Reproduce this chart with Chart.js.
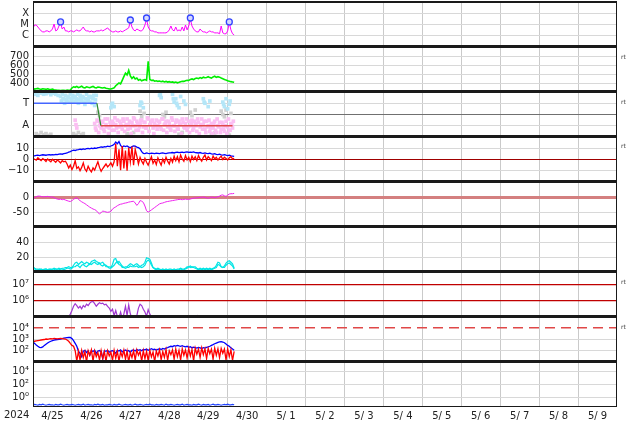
<!DOCTYPE html>
<html>
<head>
<meta charset="utf-8">
<script src="https://cdn.jsdelivr.net/npm/chart.js@4/dist/chart.umd.min.js"></script>
<style>
  html, body { margin: 0; padding: 0; background: #fff; }
  #wrap { position: relative; width: 634px; height: 424px; }
  #wrap canvas { position: absolute; left: 0; top: 0; }
  .rt { position: absolute; left: 621px; font: 6px/6px "DejaVu Sans", sans-serif; color: #444; }
  #year { position: absolute; left: 4px; top: 409px; font: 10px "DejaVu Sans", sans-serif; color: #222; }
</style>
</head>
<body>
<div id="wrap">
  <canvas id="chart" width="634" height="424"></canvas>
  <span class="rt" style="top:54px">rt</span>
  <span class="rt" style="top:99px">rt</span>
  <span class="rt" style="top:143px">rt</span>
  <span class="rt" style="top:279px">rt</span>
  <span class="rt" style="top:324px">rt</span>
  <span id="year">2024</span>
</div>
<script>
// x axis: hours since 4/25 00 UT, one label per day
const dayLabels = ['4/25', '4/26', '4/27', '4/28', '4/29', '4/30', '5/ 1', '5/ 2', '5/ 3', '5/ 4', '5/ 5', '5/ 6', '5/ 7', '5/ 8', '5/ 9'];

// all hourly series start at 4/25 00 UT

// X-ray flux (1e-6 W/m2)
const xrayFlux = [
  5, 9, 9, 6, 4, 2.7, 2.2, 2.2, 2.7, 2.7,
  2.2, 2.7, 4, 11, 2.7, 3.3, 7.4, 14, 4, 6,
  2.7, 2.7, 2.2, 2.7, 2.7, 2.2, 2.7, 3.3, 2.7, 2.7,
  4, 6, 3.3, 2.7, 2.7, 2.2, 2.7, 2.2, 2.2, 2.7,
  2.7, 2.7, 3.3, 2.7, 3.3, 4, 5, 3.3, 2.7, 2.2,
  2.2, 2.7, 2.2, 2.2, 2.7, 2.2, 2.7, 3.3, 4, 5,
  20, 6, 3.3, 2.7, 4, 3.3, 2.7, 2.7, 4, 9,
  30, 6, 3.3, 2.7, 2.7, 2.2, 2.2, 1.8, 1.8, 1.8,
  1.8, 1.8, 1.8, 2.2, 3.3, 7.4, 3.3, 2.7, 6, 2.7,
  3.3, 2.7, 6, 2.7, 9, 3.3, 7.4, 30, 7.4, 4,
  2.7, 2.2, 2.2, 4, 2.7, 2.2, 2.2, 1.8, 2.2, 2.7,
  2.2, 2.2, 1.8, 1.8, 1.8, 1.5, 7.4, 1.8, 1.5, 1.5,
  2.7, 14, 3.3, 1.5, 1.2
];
const flareHours = [17, 60, 70, 97, 121];
const flarePeaks = [17, 25, 38, 38, 17];
const xrayTicks = [1, 10, 100];
const xrayTickLabels = ['C', 'M', 'X'];

// solar wind speed (km/s)
const windSpeed = [
  338, 332, 336, 340, 334, 330, 336, 333, 329, 335, 331, 328, 332, 326, 322, 318, 320, 316, 320, 318, 315, 322, 318, 320,
  345, 358, 352, 362, 348, 355, 364, 350, 345, 358, 352, 348, 356, 362, 350, 346, 355, 352, 348, 344, 350, 342, 338, 335,
  334, 340, 346, 370, 385, 400, 390, 430, 470, 510, 490, 540, 480, 450, 470, 445, 455, 430,
  440, 425, 432, 438, 430, 640, 440, 428, 432, 420, 425, 418, 422, 415, 420, 412, 418, 410, 415, 408, 412, 405, 410, 402, 408,
  415, 420, 418, 425, 430, 428, 440, 445, 438, 450, 455, 448, 460, 452, 465, 458, 462, 470, 460, 455, 468, 475, 462, 470, 465,
  455, 448, 440, 432, 425, 420, 415, 412, 408
];
const speedTicks = [400, 500, 600, 700];
const speedTickLabels = ['400', '500', '600', '700'];

// IMF sector (T = toward, A = away)
const sectorHours = [0, 39.4, 41.8, 123];
const sectorVals = [0.5, 0.5, -0.5, -0.5];
const towardHours = [0.5, 1, 2.5, 3, 5, 6.5, 8, 9.5, 11, 12.5, 14, 15.5, 17, 17.5, 18, 18.5, 19, 19.5, 20, 20.5,
  21, 21.5, 22, 22.5, 23, 23.5, 24, 24.5, 25, 25.5, 26, 26.5, 27, 27.5, 28, 28.5, 29, 29.5, 30, 30.5,
  31, 31.5, 32, 32.5, 33, 33.5, 34, 34.5, 35, 35.5, 36, 36.5, 37, 37.5, 38, 38.5, 39,
  48, 48.5, 49, 50, 66, 66.5, 67, 68, 78, 78.5, 79, 86, 86.5, 87, 88, 88.5, 89, 90, 91, 93, 94,
  105, 105.5, 106, 108, 109, 117, 117.5, 118, 119, 120, 121, 121.5];
const towardVals = [0.92, 0.9, 0.97, 0.85, 0.95, 0.9, 0.92, 0.97, 0.88, 0.95, 0.9, 0.85, 0.8, 0.6, 0.9, 0.7, 0.7, 0.5, 0.85, 0.65,
  0.6, 0.8, 0.75, 0.55, 0.9, 0.7, 0.65, 0.85, 0.55, 0.75, 0.8, 0.6, 0.7, 0.9, 0.5, 0.65, 0.85, 0.7, 0.6, 0.8,
  0.75, 0.55, 0.45, 0.7, 0.9, 0.6, 0.65, 0.8, 0.55, 0.75, 0.8, 0.5, 0.7, 0.85, 0.4, 0.65, 0.85,
  0.3, 0.45, 0.5, 0.35, 0.4, 0.55, 0.5, 0.3, 0.85, 0.9, 0.75, 0.9, 0.7, 0.55, 0.7, 0.5, 0.4, 0.3, 0.8, 0.6, 0.45,
  0.7, 0.55, 0.5, 0.35, 0.6, 0.55, 0.45, 0.35, 0.7, 0.25, 0.45, 0.6];
const awayStart = 38;
const awayA = [
  -0.4, -0.7, -0.3, -0.5, -0.6, -0.35, -0.75, -0.45, -0.2, -0.6,
  -0.5, -0.3, -0.7, -0.45, -0.25, -0.55, -0.4, -0.65, -0.3, -0.5,
  -0.2, -0.45, -0.6, -0.35, -0.15, -0.5, -0.3, -0.7, -0.4, -0.25,
  -0.55, -0.35, -0.6, -0.2, -0.45, -0.3, -0.6, -0.4, -0.25, -0.5,
  -0.35, -0.65, -0.2, -0.45, -0.3, -0.55, -0.4, -0.7, -0.25, -0.5,
  -0.35, -0.6, -0.3, -0.45, -0.2, -0.55, -0.4, -0.7, -0.3, -0.5,
  -0.25, -0.6, -0.4, -0.75, -0.35, -0.55, -0.2, -0.45, -0.65, -0.3,
  -0.5, -0.75, -0.4, -0.6, -0.3, -0.8, -0.5, -0.35, -0.65, -0.45,
  -0.75, -0.3, -0.55, -0.7, -0.4, -0.6
];
const awayB = [
  -0.6, -0.25, -0.8, -0.45, -0.3, -0.65, -0.2, -0.55, -0.85, -0.35,
  -0.7, -0.4, -0.15, -0.6, -0.8, -0.3, -0.5, -0.2, -0.75, -0.45,
  -0.65, -0.3, -0.85, -0.5, -0.2, -0.7, -0.4, -0.55, -0.25, -0.8,
  -0.35, -0.6, -0.15, -0.75, -0.45, -0.25, -0.85, -0.5, -0.65, -0.3,
  -0.55, -0.2, -0.7, -0.4, -0.8, -0.3, -0.6, -0.15, -0.5, -0.75,
  -0.25, -0.65, -0.45, -0.85, -0.35, -0.6, -0.2, -0.55, -0.8, -0.4,
  -0.7, -0.3, -0.5, -0.2, -0.85, -0.45, -0.65, -0.3, -0.8, -0.55,
  -0.25, -0.6, -0.85, -0.4, -0.7, -0.2, -0.55, -0.8, -0.35, -0.65,
  -0.5, -0.85, -0.2, -0.7, -0.45, -0.3
];
const awayEarlyHours = [26, 26.5, 27];
const awayEarlyVals = [-0.25, -0.45, -0.6];
const grayHours = [2, 3.5, 5, 6.5, 8, 9.5, 11, 25, 26.5, 28, 30, 31, 40, 41, 58, 60, 62, 66, 67, 68.5,
  80, 81, 82, 90, 92, 97, 98, 100, 110, 112, 116, 117, 118, 119, 120, 121, 122];
const grayVals = [-0.85, -0.92, -0.8, -0.9, -0.85, -0.93, -0.88, -0.85, -0.92, -0.8, -0.9, -0.85, 0.1, -0.05, -0.85, -0.92, -0.8, 0.15, -0.1, 0.05,
  0, -0.1, 0.1, -0.88, -0.8, 0.1, -0.05, 0.2, -0.9, -0.82, 0.15, 0, -0.1, 0.2, -0.85, -0.92, 0.05];
const sectorTicks = [-0.5, 0, 0.5];
const sectorTickLabels = ['A', '', 'T'];

// IMF Bz (red) and Bt (blue), nT
const bzVals = [
  1.0, 0.2, -0.5, 1.5, 0.3, -1.0, 0.8, -0.3, -1.8, 0.5, -0.8, -2.0, 0.2, -1.2, -2.5, -0.5, -1.5, -3.0, -1.0, -2.0, -1.5,
  -4.0, -7.5, -5.0, -9.0, -6.0, -1.0, -8.0,
  -6.5, -10.0, -7.0, -3.0, -8.5, -10.5, -6.0, -9.0, -11.0, -7.5, -9.5, -5.5,
  -2.0, -7.0, -10.5, -8.0, -6.0, -4.0, -6.5, -5.0, -3.0, -6.0, -2.0,
  14.0, -6.0, 9.0, -9.5, 12.0, -8.0,
  8.0, -10.0, 10.5, -2.0, 11.5, -5.0, 9.0, 3.0, -4.0, 2.0, -1.5,
  -4.0, 1.0, -2.5, -5.0, -1.0, 2.5, -3.5, -0.5, -4.5, 1.5, -2.0, -5.0, 0.5, -3.0, 2.0, -1.5, -4.0,
  1.0, -2.5, 3.0, -1.0, 2.5, -2.0, 4.0, 0.5, -1.5, 3.5, -0.5, 2.0, -2.0, 3.0, 0.0, 2.5,
  -1.0, 3.5, 0.5, -1.5, 2.0, 4.0, -0.5, 2.5, 1.0, -1.0, 3.0, 0.5, 2.0, -0.5, 1.5, 3.0, 0.0, 2.0, 1.0, -0.5, 1.5, 2.5, 0.5, 1.0
];
const btVals = [
  3.5, 3.2, 3.6, 3.8, 3.5, 3.9, 4.2, 4.0, 3.8, 4.1, 4.3, 4.0, 4.4, 4.2, 4.5, 4.3, 4.8, 5.0, 4.7, 5.2, 5.5,
  5.8, 6.5, 7.0, 7.8, 8.3, 8.0, 8.6,
  8.8, 9.2, 8.9, 9.4, 9.1, 9.6, 9.8, 9.5, 10.0, 9.7, 10.2, 9.9,
  10.5, 10.8, 11.2, 10.9, 11.5, 11.3, 11.8, 11.4, 12.0, 12.5, 13.5,
  15.5, 14.0, 16.0, 12.5, 11.0, 12.0,
  11.5, 12.0, 11.0, 10.5, 11.5, 12.0, 11.8, 11.0, 10.5, 9.5, 7.0,
  5.5, 5.2, 5.8, 5.5, 5.3, 5.6, 5.4, 5.2, 5.7, 5.5, 5.3, 5.6, 5.8, 5.5, 5.2, 5.6, 5.9,
  6.0, 6.2, 5.8, 6.3, 6.5, 6.1, 6.4, 6.6, 6.2, 6.5, 6.8, 6.4, 6.6, 6.3, 6.7, 6.2,
  6.0, 5.8, 6.2, 5.7, 5.5, 5.9, 5.4, 5.2, 5.6, 5.0, 4.8, 5.2, 4.6, 4.3, 4.7, 4.2, 3.9, 4.3, 3.8, 3.5, 3.9, 3.2, 3.0, 2.8
];
const bTicks = [-10, 0, 10];
const bTickLabels = ['\u221210', '0', '10'];

// Dst index (nT)
const dstVals = [
  -6, -2, 1, 3, 3, 2, 0, 1, 1, 2,
  1, 0, 0, -2, -5, -7, -8, -7, -9, -8,
  -10, -12, -14, -15, -12, -8, -4, -3, -8, -12,
  -16, -19, -22, -26, -30, -34, -37, -40, -42, -45,
  -52, -56, -52, -47, -48, -50, -51, -50, -48, -40,
  -36, -33, -29, -26, -24, -23, -21, -20, -19, -17,
  -16, -15, -14, -20, -28, -22, -12, -14, -18, -30,
  -46, -50, -47, -43, -39, -35, -31, -27, -23, -21,
  -20, -18, -16, -15, -14, -13, -12, -11, -10, -9,
  -8, -8, -9, -8, -7, -8, -8, -7, -5, -4,
  -3, -3, -2, -1, -1, 0, -1, -3, -4, -2,
  0, -1, -2, -1, 1, 3, 6, 7, 4, 2,
  6, 10, 11, 11, 12
];
const dstTicks = [-50, 0];
const dstTickLabels = ['-50', '0'];

// geomagnetic activity, two traces
const activityA = [
  7, 5, 4, 4, 3, 4, 3, 4, 4, 3, 4, 3, 4, 5, 4, 4, 5, 4, 5, 5, 6, 6, 7, 6,
  6, 9, 12, 13, 10, 12, 14, 12, 11, 13, 12, 10, 14, 15, 16, 14, 13, 11, 12, 13, 10, 9, 7, 7,
  6, 10, 17, 18, 12, 14, 11, 8, 6, 7, 7, 9, 11, 10, 8, 10, 11, 9, 7, 9, 10, 13, 19, 18,
  17, 12, 6, 5, 4, 5, 4, 3, 4, 3, 4, 3, 4, 4, 3, 4, 3, 4, 4, 5, 4, 4, 5, 7,
  7, 8, 6, 7, 7, 5, 4, 5, 4, 5, 4, 5, 4, 5, 4, 5, 6, 9, 13, 12, 7, 6, 8, 12,
  14, 15, 13, 11, 5
];
const activityB = [
  5, 4, 3, 3, 4, 3, 3, 3, 4, 3, 3, 4, 3, 3, 4, 3, 3, 4, 4, 3, 4, 5, 5, 4,
  5, 7, 7, 9, 8, 6, 9, 10, 8, 7, 9, 11, 10, 12, 13, 11, 10, 12, 9, 8, 10, 7, 7, 5,
  5, 7, 9, 12, 14, 10, 9, 6, 6, 5, 6, 6, 8, 7, 7, 7, 8, 6, 7, 6, 7, 9, 14, 16,
  14, 9, 6, 4, 3, 4, 3, 3, 3, 3, 3, 3, 3, 3, 3, 3, 3, 3, 3, 4, 3, 3, 4, 5,
  7, 6, 7, 6, 5, 4, 3, 4, 3, 4, 3, 4, 3, 4, 3, 4, 5, 6, 10, 9, 7, 6, 6, 9,
  11, 12, 10, 8, 4
];
const activityTicks = [20, 40];
const activityTickLabels = ['20', '40'];

// proton flux (null = no data)
const protonFlux = [
  null, null, null, null, null, null, null, null, null, null, null, null, 1.05e5, 9e4,
  null, null, null, null, null, null, null, null,
  1.0e5, 1.5e5, 2.5e5, 4.5e5, 6.5e5, 5.0e5, 3.5e5, 4.5e5, 3.2e5, 5.0e5,
  4.0e5, 6.0e5, 5.0e5, 7.0e5, 8.5e5, 9.0e5, 6.5e5, 4.5e5, 6.0e5, 7.5e5,
  6.5e5, 7.0e5, 5.5e5, 6.0e5, 4.5e5, 3.5e5, 2.2e5, 3.0e5, 1.2e5, 2.5e5,
  1.1e5, 9e4, 2.0e5, 8e4, 1.5e5, 4.5e5, 1.2e5, 5.5e5, 1.5e5, 9e4,
  8e4, null, 1.2e5, 3.5e5, 6.0e5, 5.0e5, 3.0e5, 2.0e5, 1.1e5, 2.8e5,
  1.5e5, 1.1e5, 9e4,
  null, null, null, null, null, null, null, null, null, null, null, null, null, null, null, null, null,
  1.1e5, 9e4, null, null, null, null, null, null, null, 1.3e5, 1.0e5
];
const protonTicks = [1e6, 1e7];
const protonTickLabels = ['10\u2076', '10\u2077'];

// electron flux, red and blue channels
const electronRed = [
  600, 700, 750, 800, 850, 900, 950, 1000, 1100, 1050, 1150, 1200, 1150, 1250, 1200, 1150, 1200, 1250, 1200, 1150,
  1100, 900, 700, 450, 300, 250, 100, 12,
  90, 15, 110, 25, 80, 10, 100, 40, 120, 12, 95, 30, 70, 15, 105, 20, 85, 11, 100, 35,
  75, 14, 110, 22, 90, 12, 80, 30, 115, 18, 95, 10, 70, 25, 100, 15, 120, 40, 85, 12,
  100, 20, 90, 13, 110, 28, 75, 11, 95, 35, 120, 16, 85, 25, 130, 14, 100, 45, 120, 18,
  140, 30, 110, 15, 150, 40, 120, 22, 160, 35, 130, 12, 170, 50, 140, 25, 180, 45, 150, 20,
  160, 55, 140, 18, 170, 40, 150, 25, 165, 60, 140, 15, 150, 30, 120, 14, 90
];
const electronBlue = [
  600, 450, 320, 250, 200, 190, 220, 300, 380, 480, 600, 700, 800, 900, 950, 1000, 1050, 1100, 1200, 1300,
  1400, 1450, 1500, 1500, 1200, 800, 450, 250, 90,
  60, 30, 90, 110, 70, 95, 40, 100, 85, 110, 60, 95, 105, 80, 20, 100, 90, 110, 75, 95,
  100, 85, 60, 110, 95, 120, 80, 100, 115, 90, 105, 70, 110, 120, 95, 130, 110, 125, 100, 130,
  120, 140, 110, 130, 150, 125, 140, 115, 135, 150, 130, 160, 140, 170, 190, 220, 250, 230, 280, 260,
  300, 270, 250, 280, 240, 220, 250, 200, 230, 180, 210, 190, 170, 200, 180, 160, 190, 170, 200, 220,
  250, 300, 350, 420, 480, 550, 620, 650, 600, 520, 400, 300, 250, 180, 140, 110
];
const electronTicks = [1e2, 1e3, 1e4];
const electronTickLabels = ['10\u00b2', '10\u00b3', '10\u2074'];

// bottom panel count rate
const bottomRate = [
  0.07, 0.08, 0.07, 0.06, 0.08, 0.07, 0.09, 0.07, 0.06, 0.07, 0.08, 0.07, 0.07, 0.06, 0.08, 0.07, 0.07, 0.09, 0.07, 0.06, 0.07, 0.08, 0.07, 0.07, 0.08,
  0.07, 0.06, 0.07, 0.08, 0.07, 0.07, 0.09, 0.06, 0.07, 0.08, 0.07, 0.07, 0.06, 0.08, 0.07, 0.09, 0.07, 0.07, 0.08, 0.06, 0.07, 0.07, 0.08, 0.07, 0.06,
  0.08, 0.07, 0.07, 0.09, 0.07, 0.06, 0.07, 0.08, 0.07, 0.07, 0.08, 0.06, 0.07, 0.09, 0.07, 0.07, 0.08, 0.07, 0.06, 0.07, 0.08, 0.07, 0.09, 0.07, 0.07,
  0.06, 0.08, 0.07, 0.07, 0.08, 0.07, 0.06, 0.09, 0.07, 0.07, 0.08, 0.07, 0.06, 0.07, 0.08, 0.07, 0.07, 0.09, 0.06, 0.07, 0.08, 0.07, 0.07, 0.06, 0.08,
  0.07, 0.07, 0.09, 0.07, 0.06, 0.08, 0.07, 0.07, 0.08, 0.06, 0.07, 0.09, 0.07, 0.07, 0.08, 0.07, 0.06, 0.07, 0.08, 0.07, 0.09, 0.07, 0.07, 0.08, 0.07
];
const bottomTicks = [1, 1e2, 1e4];
const bottomTickLabels = ['10\u2070', '10\u00b2', '10\u2074'];

const hourly = (vals, start = 0) => vals.map((v, i) => ({x: start + i, y: v}));
const pairs = (xs, ys) => xs.map((x, i) => ({x: x, y: ys[i]}));

function line(data, yAxisID, color, width) {
  return {data, yAxisID, xAxisID: 'x', borderColor: color, backgroundColor: color,
    borderWidth: width || 1, pointRadius: 0, tension: 0, fill: false};
}
function dots(data, yAxisID, color) {
  return {data, yAxisID, xAxisID: 'x', showLine: false, pointStyle: 'rect', pointRadius: 2.6,
    pointBorderWidth: 0, pointBackgroundColor: color, borderColor: color, backgroundColor: color};
}

const labelFont = {family: 'DejaVu Sans', size: 10};
function yScale(weight, type, min, max, tickVals, tickLabels, style) {
  style = style || {};
  return {
    type, min, max, bounds: 'data', position: 'left', stack: 'panels', stackWeight: 1, weight,
    border: {display: false, dash: c => (style.dash && style.dash[c.index]) || []},
    grid: {
      drawTicks: false,
      color: c => (style.colors && style.colors[c.index]) || '#d8d8d8',
      lineWidth: c => (style.widths && style.widths[c.index]) || 1
    },
    ticks: {autoSkip: false, padding: 4, color: '#222', font: labelFont, callback: (v, i) => tickLabels[i]},
    afterBuildTicks: s => { s.ticks = tickVals.map(v => ({value: v})); },
    afterFit: s => { s.width = 33; s.paddingTop = 0; s.paddingBottom = 0; }
  };
}

const panelIds = ['yX', 'ySpd', 'yImf', 'yB', 'yDst', 'yAe', 'yP', 'yE', 'yN'];
const sectorColors = ['#4466ff', '#2e8b2e', '#e04848'];

const framePlugin = {
  id: 'frame',
  afterDraw(chart) {
    const {ctx, chartArea: a} = chart;
    ctx.save();
    ctx.strokeStyle = '#1a1a1a';
    ctx.lineWidth = 1;
    ctx.beginPath();
    ctx.moveTo(a.left + 0.5, a.top); ctx.lineTo(a.left + 0.5, a.bottom);
    ctx.moveTo(a.right - 0.5, a.top); ctx.lineTo(a.right - 0.5, a.bottom);
    ctx.moveTo(a.left, a.bottom - 0.5); ctx.lineTo(a.right, a.bottom - 0.5);
    ctx.stroke();
    ctx.lineWidth = 2;
    ctx.beginPath();
    ctx.moveTo(a.left, a.top); ctx.lineTo(a.right, a.top);
    ctx.stroke();
    ctx.lineWidth = 3;
    ctx.beginPath();
    panelIds.slice(1).forEach(id => {
      const y = Math.round(chart.scales[id].top) - 0.5;
      ctx.moveTo(a.left, y); ctx.lineTo(a.right, y);
    });
    ctx.stroke();
    ctx.restore();
  }
};

const sectorLine = line(pairs(sectorHours, sectorVals), 'yImf', sectorColors[0], 1.3);
sectorLine.segment = {borderColor: c => sectorColors[c.p0DataIndex]};

const flareMarks = {
  data: pairs(flareHours, flarePeaks), yAxisID: 'yX', xAxisID: 'x', showLine: false,
  pointStyle: 'circle', pointRadius: 3, pointBorderWidth: 1.3,
  pointBorderColor: '#3344ff', pointBackgroundColor: '#d4d8ff'
};

new Chart(document.getElementById('chart'), {
  type: 'line',
  data: {
    datasets: [
      flareMarks,
      line(hourly(xrayFlux), 'yX', '#ff00ff', 1),
      line(hourly(windSpeed), 'ySpd', '#00ee00', 1.6),
      sectorLine,
      dots(pairs(towardHours, towardVals), 'yImf', '#b4e6f8'),
      dots(hourly(awayA, awayStart), 'yImf', '#fbbef2'),
      dots(hourly(awayB, awayStart + 0.5), 'yImf', '#fbbef2'),
      dots(pairs(awayEarlyHours, awayEarlyVals), 'yImf', '#fbbef2'),
      dots(pairs(grayHours, grayVals), 'yImf', '#d0d0d0'),
      line(hourly(bzVals), 'yB', '#ff0000', 1.3),
      line(hourly(btVals), 'yB', '#0000ff', 1.3),
      line(hourly(dstVals), 'yDst', '#ee22ee', 1),
      line(hourly(activityA), 'yAe', '#00e4e4', 1.2),
      line(hourly(activityB), 'yAe', '#00e4e4', 1.2),
      line(hourly(protonFlux), 'yP', '#a038d0', 1.2),
      line(hourly(electronRed), 'yE', '#ff0000', 1.3),
      line(hourly(electronBlue), 'yE', '#0000ff', 1.3),
      line(hourly(bottomRate), 'yN', '#2244ff', 1.2)
    ]
  },
  options: {
    responsive: false,
    devicePixelRatio: 1,
    animation: false,
    layout: {autoPadding: false, padding: {top: 2, right: 17, bottom: 0, left: 0}},
    plugins: {legend: {display: false}, tooltip: {enabled: false}},
    scales: {
      x: {
        type: 'linear', position: 'bottom', min: 0, max: 360, bounds: 'data', weight: 1,
        border: {display: false},
        grid: {color: '#cacaca', drawTicks: false},
        ticks: {display: false},
        afterBuildTicks: s => { s.ticks = dayLabels.slice(1).map((d, i) => ({value: (i + 1) * 24})); },
        afterFit: s => { s.height = 0; s.paddingLeft = 0; s.paddingRight = 0; }
      },
      xl: {
        type: 'linear', position: 'bottom', min: 0, max: 360, bounds: 'data', weight: 0,
        border: {display: false},
        grid: {display: false, drawTicks: false},
        ticks: {autoSkip: false, maxRotation: 0, padding: 3, color: '#222', font: labelFont,
          callback: (v, i) => dayLabels[i]},
        afterBuildTicks: s => { s.ticks = dayLabels.map((d, i) => ({value: i * 24 + 12})); },
        afterFit: s => { s.height = 17; s.paddingLeft = 0; s.paddingRight = 0; }
      },
      yX: yScale(9, 'logarithmic', 0.1, 1000, xrayTicks, xrayTickLabels),
      ySpd: yScale(8, 'linear', 300, 800, speedTicks, speedTickLabels),
      yImf: yScale(7, 'linear', -1, 1, sectorTicks, sectorTickLabels,
        {colors: ['#d8d8d8', '#707070', '#d8d8d8']}),
      yB: yScale(6, 'linear', -20, 20, bTicks, bTickLabels,
        {colors: ['#d8d8d8', '#a00000', '#d8d8d8']}),
      yDst: yScale(5, 'linear', -100, 50, dstTicks, dstTickLabels,
        {colors: ['#d8d8d8', '#d48080'], widths: [1, 3]}),
      yAe: yScale(4, 'linear', 0, 60, activityTicks, activityTickLabels),
      yP: yScale(3, 'logarithmic', 1e5, 5.6e7, protonTicks, protonTickLabels,
        {colors: ['#c00000', '#c00000'], widths: [1.3, 1.3]}),
      yE: yScale(2, 'logarithmic', 10, 1e5, electronTicks, electronTickLabels,
        {colors: ['#d8d8d8', '#d8d8d8', '#e04848'], widths: [1, 1, 1.6], dash: [null, null, [10, 6]]}),
      yN: yScale(1, 'logarithmic', Math.pow(10, -1.5), Math.pow(10, 5.5), bottomTicks, bottomTickLabels)
    }
  },
  plugins: [framePlugin]
});
</script>
</body>
</html>
